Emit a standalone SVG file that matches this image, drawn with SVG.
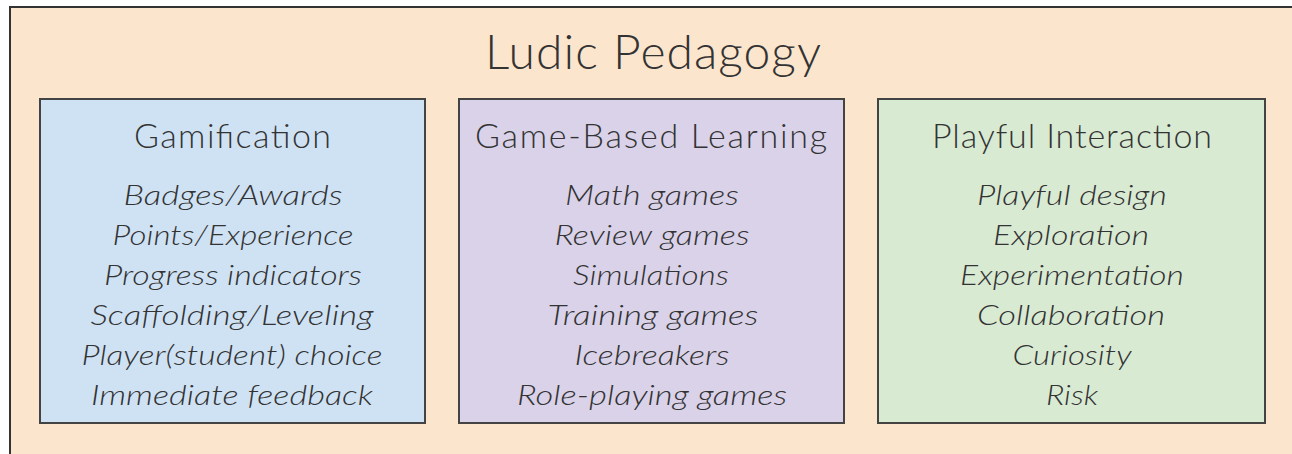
<svg xmlns="http://www.w3.org/2000/svg" width="1292" height="454" viewBox="0 0 1292 454">
<style>
.box{stroke:#434343;stroke-width:2}
.t{font-family:Lato,"Open Sans","DejaVu Sans",sans-serif;font-weight:300;fill:#333333;text-anchor:middle}
.title{font-size:48px}
.head{font-size:34px}
.item{font-size:28px;font-style:italic}
</style>
<rect x="10" y="7" width="1300" height="470" fill="#fce5cd" stroke="#333333" stroke-width="2"/>
<text class="t title" x="653" y="69" textLength="336">Ludic Pedagogy</text>
<g id="gamification">
<rect class="box" x="40" y="99" width="385" height="324" fill="#cfe2f3"/>
<text class="t head" x="232.5" y="148" textLength="197">Gamification</text>
<text class="t item" x="233" y="205" textLength="219" lengthAdjust="spacingAndGlyphs">Badges/Awards</text>
<text class="t item" x="233" y="245" textLength="241" lengthAdjust="spacingAndGlyphs">Points/Experience</text>
<text class="t item" x="233" y="285" textLength="258" lengthAdjust="spacingAndGlyphs">Progress indicators</text>
<text class="t item" x="232" y="325" textLength="283" lengthAdjust="spacingAndGlyphs">Scaffolding/Leveling</text>
<text class="t item" x="232" y="365" textLength="301" lengthAdjust="spacingAndGlyphs">Player(student) choice</text>
<text class="t item" x="232" y="405" textLength="282" lengthAdjust="spacingAndGlyphs">Immediate feedback</text>
</g>
<g id="game-based-learning">
<rect class="box" x="459" y="99" width="385" height="324" fill="#d9d2e9"/>
<text class="t head" x="651" y="148" textLength="352">Game-Based Learning</text>
<text class="t item" x="652" y="205" textLength="174" lengthAdjust="spacingAndGlyphs">Math games</text>
<text class="t item" x="652" y="245" textLength="195" lengthAdjust="spacingAndGlyphs">Review games</text>
<text class="t item" x="651" y="285" textLength="156" lengthAdjust="spacingAndGlyphs">Simulations</text>
<text class="t item" x="653" y="325" textLength="211" lengthAdjust="spacingAndGlyphs">Training games</text>
<text class="t item" x="652" y="365" textLength="155" lengthAdjust="spacingAndGlyphs">Icebreakers</text>
<text class="t item" x="652" y="405" textLength="270" lengthAdjust="spacingAndGlyphs">Role-playing games</text>
</g>
<g id="playful-interaction">
<rect class="box" x="878" y="99" width="387" height="324" fill="#d9ead3"/>
<text class="t head" x="1072" y="148" textLength="280">Playful Interaction</text>
<text class="t item" x="1072" y="205" textLength="190" lengthAdjust="spacingAndGlyphs">Playful design</text>
<text class="t item" x="1071" y="245" textLength="156" lengthAdjust="spacingAndGlyphs">Exploration</text>
<text class="t item" x="1072" y="285" textLength="224" lengthAdjust="spacingAndGlyphs">Experimentation</text>
<text class="t item" x="1071" y="325" textLength="188" lengthAdjust="spacingAndGlyphs">Collaboration</text>
<text class="t item" x="1072" y="365" textLength="119" lengthAdjust="spacingAndGlyphs">Curiosity</text>
<text class="t item" x="1072" y="405" textLength="52" lengthAdjust="spacingAndGlyphs">Risk</text>
</g>
<g id="connectors"/>
</svg>
